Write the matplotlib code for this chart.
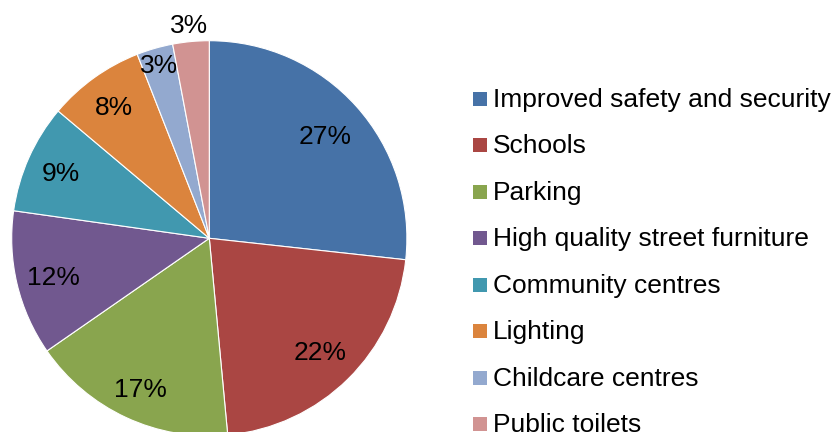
import numpy as np
import matplotlib
matplotlib.use("Agg")
import matplotlib.pyplot as plt
from matplotlib.patches import Rectangle

categories = ["Improved safety and security", "Schools", "Parking",
              "High quality street furniture", "Community centres", "Lighting",
              "Childcare centres", "Public toilets"]
values = [27, 22, 17, 12, 9, 8, 3, 3]
labels = ["27%", "22%", "17%", "12%", "9%", "8%", "3%", "3%"]
colors = ["#4672A7", "#AA4643", "#89A54E", "#71588F", "#4198AF", "#DB843D",
          "#93A9CF", "#D19392"]
label_radius = [0.79, 0.80, 0.83, 0.81, 0.825, 0.83, 0.92, 1.09]

plt.rcParams['font.family'] = ['Liberation Sans', 'DejaVu Sans']
W, H = 837, 432
fig = plt.figure(figsize=(W / 100, H / 100), dpi=100)

cx, cy, R = 209.3, 238.3, 197.6
ax = fig.add_axes([(cx - R) / W, (H - cy - R) / H, 2 * R / W, 2 * R / H])
wedges, _ = ax.pie(values, colors=colors, startangle=90, counterclock=False,
                   radius=1.0, wedgeprops=dict(edgecolor="white", linewidth=0.8))
ax.set_xlim(-1, 1)
ax.set_ylim(-1, 1)
ax.set_aspect("equal")
ax.axis("off")
for w in wedges:
    w.set_clip_on(False)

fs = 19
for w, lab, r in zip(wedges, labels, label_radius):
    mid = np.deg2rad((w.theta1 + w.theta2) / 2)
    ax.text(r * np.cos(mid), r * np.sin(mid), lab, ha="center", va="center_baseline",
            fontsize=fs, color="black")

# legend
row0, step = 98.8, 46.46
for i, (cat, col) in enumerate(zip(categories, colors)):
    yc = row0 + i * step
    fig.patches.append(Rectangle((472.7 / W, (H - yc - 7) / H), 14 / W, 14 / H,
                                 transform=fig.transFigure, facecolor=col,
                                 edgecolor="none"))
    fig.text(492.7 / W, (H - (yc + 8)) / H, cat, ha="left", va="baseline",
             fontsize=fs, color="black")

fig.savefig("out.png", dpi=100)
